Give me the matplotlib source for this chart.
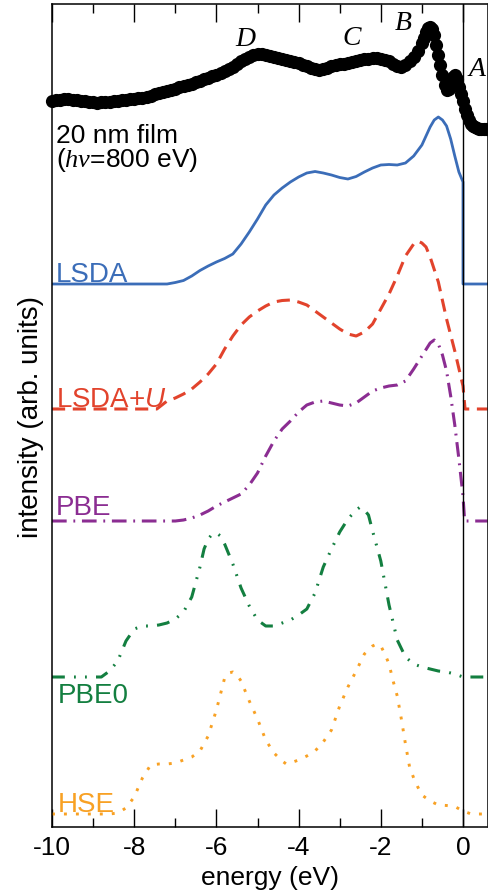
import matplotlib
matplotlib.use("Agg")
import matplotlib.pyplot as plt
from matplotlib.ticker import MultipleLocator

plt.rcParams['font.family'] = ['Liberation Sans', 'DejaVu Sans']
plt.rcParams['mathtext.fontset'] = 'custom'
plt.rcParams['mathtext.rm'] = 'Liberation Sans'
plt.rcParams['mathtext.it'] = 'Liberation Serif:italic'
plt.rcParams['mathtext.sf'] = 'Liberation Sans:italic'
plt.rcParams['axes.unicode_minus'] = False

# measured spectrum (20 nm film, hv = 800 eV)
exp_e = [-10.0, -9.9, -9.8, -9.7, -9.6, -9.5, -9.4, -9.3, -9.2, -9.1, -9.0,
         -8.9, -8.8, -8.7, -8.6, -8.5, -8.4, -8.3, -8.2, -8.1, -8.0, -7.9,
         -7.8, -7.7, -7.6, -7.5, -7.4, -7.3, -7.2, -7.1, -7.0, -6.9, -6.8,
         -6.7, -6.6, -6.5, -6.4, -6.3, -6.2, -6.1, -6.0, -5.9, -5.8, -5.7,
         -5.6, -5.5, -5.4, -5.3, -5.2, -5.1, -5.0, -4.9, -4.8, -4.7, -4.6,
         -4.5, -4.4, -4.3, -4.2, -4.1, -4.0, -3.9, -3.8, -3.7, -3.6, -3.5,
         -3.4, -3.3, -3.2, -3.1, -3.0, -2.9, -2.8, -2.7, -2.6, -2.5, -2.4,
         -2.3, -2.2, -2.1, -2.0, -1.9, -1.8, -1.7, -1.6, -1.5, -1.4, -1.3,
         -1.2, -1.1, -1.0, -0.95, -0.9, -0.85, -0.8, -0.75, -0.7, -0.65,
         -0.6, -0.55, -0.5, -0.45, -0.4, -0.35, -0.3, -0.25, -0.2, -0.15,
         -0.1, -0.05, 0.0, 0.05, 0.1, 0.15, 0.2, 0.25, 0.3, 0.35, 0.4, 0.45,
         0.5, 0.55, 0.6]
exp_i = [726, 727, 727, 728, 728, 727, 727, 726, 726, 725, 725,
         724, 725, 725, 725, 726, 726, 727, 727, 728, 728, 729,
         729, 730, 731, 733, 734, 735, 736, 737, 738, 740, 741,
         742, 743, 745, 746, 748, 749, 751, 752, 754, 756, 758,
         760, 763, 766, 768, 770, 772, 773, 773, 772, 771, 770,
         769, 768, 767, 766, 765, 764, 762, 761, 759, 758, 757,
         758, 759, 761, 762, 763, 763, 764, 765, 766, 767, 768,
         768, 769, 769, 768, 767, 766, 763, 761, 760, 762, 766,
         770, 776, 784, 789, 795, 799, 800, 798, 792, 782,
         772, 762, 752, 742, 737, 738, 743, 750, 752, 748,
         740, 733, 726, 718, 712, 707, 703, 701, 700, 699, 698, 698,
         698, 698, 698]

# calculated spectra: energy grid and height above each baseline
lsda_e = [-10.0, -7.2, -7.0, -6.8, -6.6, -6.4, -6.2, -6.0, -5.8, -5.6, -5.4,
          -5.2, -5.0, -4.8, -4.6, -4.4, -4.2, -4.0, -3.8, -3.6, -3.4, -3.2,
          -3.0, -2.8, -2.6, -2.4, -2.2, -2.0, -1.8, -1.6, -1.4, -1.2, -1.0,
          -0.8, -0.7, -0.6, -0.5, -0.4, -0.3, -0.2, -0.1, 0.0, 0.0, 0.6]
lsda_i = [0, 0, 1.5, 3.5, 8, 13.5, 18, 22, 25.5, 30, 40,
          52, 65, 79, 89, 96, 102, 107, 111, 112.5, 111, 109,
          106.5, 105, 107.5, 112, 116, 119, 119.5, 119, 121, 128, 139,
          157, 164, 167, 164, 158, 145, 128, 112, 102, 0, 0]

ldau_e = [-10.0, -7.45, -7.2, -7.0, -6.8, -6.6, -6.4, -6.2, -6.0, -5.8, -5.6,
          -5.4, -5.2, -5.0, -4.8, -4.6, -4.4, -4.2, -4.0, -3.8, -3.6, -3.4,
          -3.2, -3.0, -2.8, -2.6, -2.4, -2.2, -2.0, -1.8, -1.6, -1.4, -1.2,
          -1.1, -1.0, -0.9, -0.8, -0.6, -0.4, -0.2, 0.0, 0.05, 0.6]
ldau_i = [0, 0, 8, 11, 15, 20, 27, 35, 45, 60, 73,
          84, 92, 98, 103, 107, 108.5, 109, 107, 104, 98, 92,
          86, 80, 75, 73, 77, 85, 100, 115, 133, 153, 165,
          168, 166, 162, 152, 127, 90, 58, 23, 0, 0]

pbe_e = [-10.0, -7.0, -6.8, -6.6, -6.4, -6.2, -6.0, -5.8, -5.6, -5.4, -5.2,
         -5.0, -4.8, -4.6, -4.4, -4.2, -4.0, -3.8, -3.6, -3.4, -3.2, -3.0,
         -2.8, -2.6, -2.4, -2.2, -2.0, -1.8, -1.6, -1.4, -1.2, -1.0, -0.8,
         -0.7, -0.6, -0.5, -0.4, -0.3, -0.2, -0.1, 0.0, 0.04, 0.6]
pbe_i = [0, 0, 1, 3, 6, 10, 15, 19, 23, 27, 36,
         48, 65, 80, 92, 100, 109, 116, 119, 120, 118, 116,
         115, 118, 124, 130, 133, 135, 136, 140, 152, 165, 178,
         181, 177, 166, 150, 125, 96, 62, 25, 0, 0]

pbe0_e = [-10.0, -8.8, -8.6, -8.4, -8.2, -8.0, -7.8, -7.6, -7.4, -7.2, -7.0,
          -6.8, -6.6, -6.4, -6.3, -6.2, -6.1, -6.0, -5.9, -5.8, -5.6, -5.4,
          -5.2, -5.0, -4.8, -4.6, -4.4, -4.2, -4.0, -3.8, -3.6, -3.4, -3.2,
          -3.0, -2.8, -2.6, -2.5, -2.4, -2.3, -2.2, -2.0, -1.8, -1.6, -1.4,
          -1.2, -1.0, -0.8, -0.6, -0.4, -0.2, 0.0, 0.6]
pbe0_i = [0, 0, 6, 16, 36, 48, 51, 51, 52, 54, 58,
          65, 80, 110, 128, 138, 143, 144, 141, 133, 113, 89,
          71, 57, 51, 51, 54, 57, 62, 68, 84, 110, 128,
          145, 158, 167, 170, 167, 162, 146, 116, 72, 37, 20,
          13, 10, 8, 6, 5, 3, 0, 0]

hse_e = [-10.0, -8.6, -8.4, -8.2, -8.0, -7.8, -7.6, -7.4, -7.2, -7.0, -6.8,
         -6.6, -6.4, -6.2, -6.0, -5.8, -5.7, -5.6, -5.5, -5.4, -5.2, -5.0,
         -4.8, -4.6, -4.4, -4.3, -4.2, -4.0, -3.8, -3.6, -3.4, -3.2, -3.0,
         -2.8, -2.6, -2.4, -2.2, -2.1, -2.0, -1.9, -1.8, -1.7, -1.6, -1.5,
         -1.4, -1.3, -1.2, -1.1, -1.0, -0.8, -0.6, -0.4, -0.2, 0.0, 0.2, 0.6]
hse_i = [0, 0, 1, 6, 17, 36, 49, 50, 50, 51, 54,
         57, 63, 78, 104, 136, 141, 142, 139, 133, 113, 95,
         74, 61, 53, 50, 51, 54, 58, 63, 72, 84, 108,
         127, 143, 160, 168, 170, 168, 160, 150, 133, 118, 95,
         70, 47, 36, 27, 19, 13, 9, 8.5, 7.5, 3, 0, 0]

names = ['LSDA', 'LSDA+$\\mathsf{U}$', 'PBE', 'PBE0', 'HSE']
offsets = [543, 418, 306, 150, 13]
colors = ['#3b6db8', '#e2432c', '#8b2d92', '#137f40', '#f8a124']

fig = plt.figure(figsize=(4.88, 8.95), dpi=100)
ax = fig.add_axes([52 / 488, 1 - 828 / 895, 435.5 / 488, 823 / 895])

ax.plot(exp_e, exp_i, 'o', color='k', ms=9.5, mew=0, clip_on=False, zorder=5)

curves = [(lsda_e, lsda_i, '-', 2.0),
          (ldau_e, ldau_i, (0, (4.3, 2.5)), 2.2),
          (pbe_e, pbe_i, (0, (4.8, 2.2, 0.6, 2.2)), 2.2),
          (pbe0_e, pbe0_i, (0, (4.2, 3.0, 0.6, 3.0, 0.6, 3.0)), 2.2),
          (hse_e, hse_i, (0, (1, 3.1)), 2.1)]
for (e, i, ls, lw), off, c in zip(curves, offsets, colors):
    ax.plot(e, [v + off for v in i], color=c, ls=ls, lw=lw)

# curve labels
ax.text(-9.9, 546, names[0], color=colors[0], fontsize=20, va='baseline')
ax.text(-9.9, 421, names[1], color=colors[1], fontsize=20, va='baseline')
ax.text(-9.9, 313, names[2], color=colors[2], fontsize=20, va='baseline')
ax.text(-9.87, 125, names[3], color=colors[3], fontsize=20, va='baseline')
ax.text(-9.87, 16, names[4], color=colors[4], fontsize=20, va='baseline')

ax.text(-9.9, 685, '20 nm film', fontsize=19, va='baseline')
ax.text(-9.9, 661, '($h\\nu$=800 eV)', fontsize=19, va='baseline')

for lab, x, y in [('D', -5.3, 789), ('C', -2.7, 790), ('B', -1.46, 805), ('A', 0.34, 758)]:
    ax.text(x, y, lab, fontsize=20, family='Liberation Serif', style='italic',
            ha='center', va='center')

ax.axvline(0, color='k', lw=1.0)

ax.set_xlim(-10, 0.596)
ax.set_ylim(0, 823)
ax.set_yticks([])
ax.xaxis.set_major_locator(MultipleLocator(2))
ax.xaxis.set_minor_locator(MultipleLocator(1))
ax.tick_params(axis='x', which='both', direction='in', top=True, width=1.0,
               labelsize=19, pad=6)
ax.tick_params(axis='x', which='major', length=13)
ax.tick_params(axis='x', which='minor', length=6.5)
for s in ax.spines.values():
    s.set_linewidth(1.1)

ax.set_xlabel('energy (eV)', fontsize=19, labelpad=4)
ax.set_ylabel('intensity (arb. units)', fontsize=20, labelpad=6)

fig.savefig('out.png', dpi=100)
